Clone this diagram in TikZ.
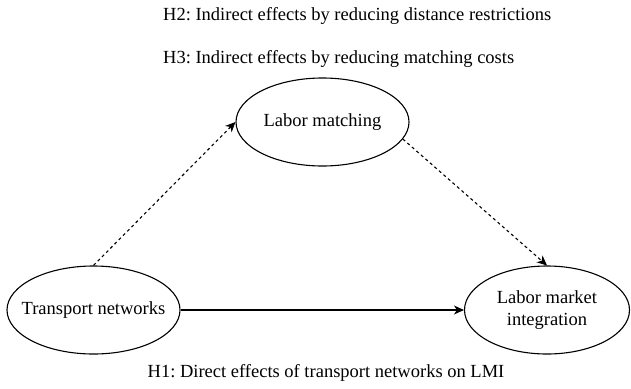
\documentclass[tikz,border=0pt]{standalone}
\usepackage{fontspec}
\setmainfont{Liberation Serif}
\frenchspacing
\usetikzlibrary{shapes.geometric,arrows.meta}
\begin{document}
\begin{tikzpicture}[x=1pt,y=-1pt,
  oval/.style={draw,ellipse,line width=1.1pt,inner sep=0pt},
  lbl/.style={inner sep=0pt,font=\fontsize{18.5}{21.5}\selectfont,align=center},
  link/.style={line width=1.1pt,-{Stealth[length=10pt,width=9pt,inset=3pt]}},
  dsh/.style={link,dash pattern=on 3pt off 3pt}]
\useasboundingbox (0,0) rectangle (631,388);
\node[oval,minimum width=173pt,minimum height=88pt] (lm) at (322.5,122) {};
\node[oval,minimum width=173pt,minimum height=88pt] (tn) at (93.5,310) {};
\node[oval,minimum width=165pt,minimum height=88pt] (lmi) at (547,310) {};
\node[lbl] (lmt) at (lm) {Labor matching};
\node[lbl] (tnt) at (tn) {Transport networks};
\node[lbl] (lmit) at (lmi) {Labor market\\integration};
\node[lbl,anchor=base west] (h2) at (163,20) {H2: Indirect effects by reducing distance restrictions};
\node[lbl,anchor=base west] (h3) at (163,63) {H3: Indirect effects by reducing matching costs};
\node[lbl,anchor=base] (h1) at (326,377) {H1: Direct effects of transport networks on LMI};
\draw[dsh] (tn.north) -- (lm.west);
\draw[dsh] (lm.-12) -- (lmi.north);
\draw[link] (tn.east) -- (lmi.west);
\end{tikzpicture}
\end{document}
